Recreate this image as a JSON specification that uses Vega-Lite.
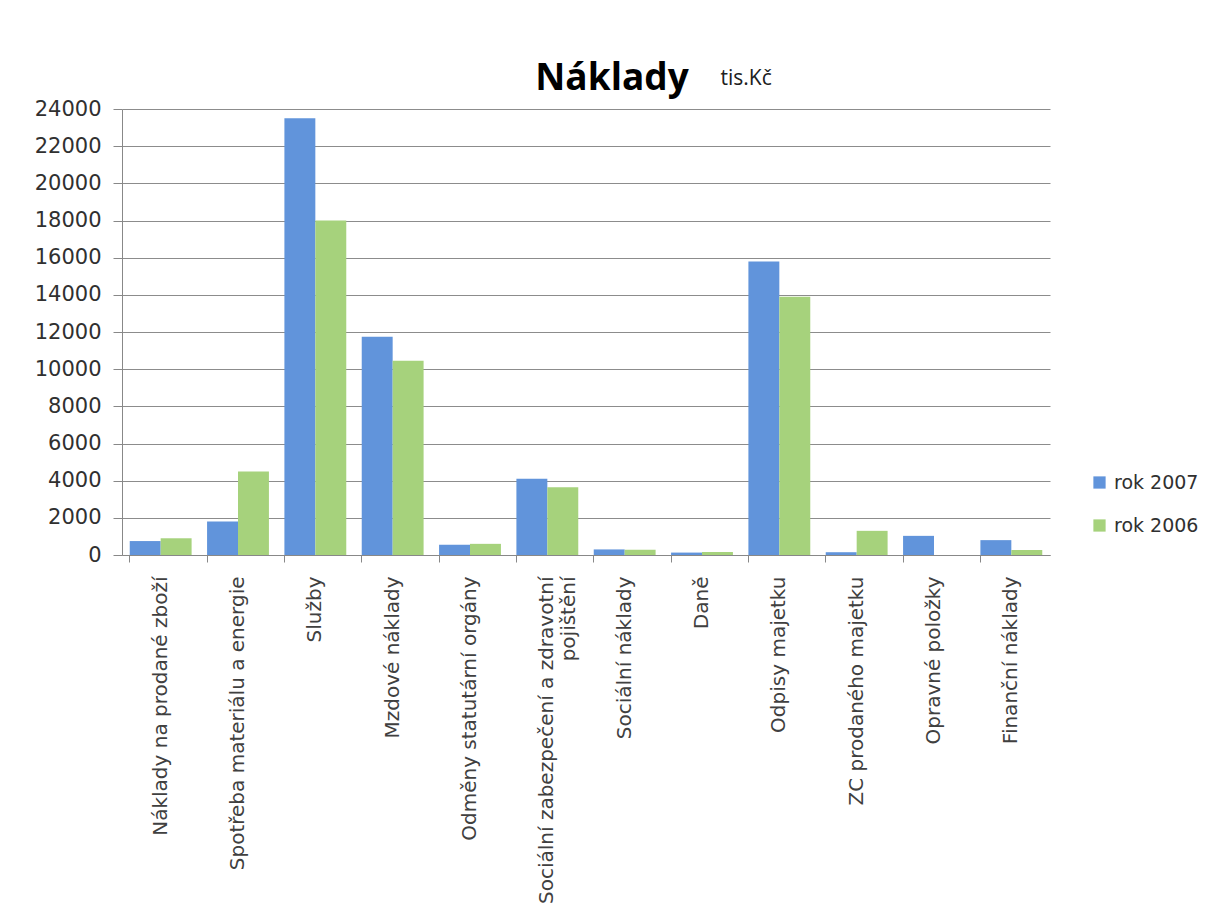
{
  "$schema": "https://vega.github.io/schema/vega-lite/v6.json",
  "width": 928,
  "height": 446,
  "autosize": {"type": "none"},
  "padding": {"left": 122, "top": 109, "right": 174, "bottom": 356},
  "background": "white",
  "title": {
    "text": "Náklady",
    "font": "Open Sans",
    "fontSize": 37,
    "fontWeight": "bold",
    "color": "#000000",
    "anchor": "middle",
    "frame": "group",
    "dx": 26,
    "dy": 45,
    "offset": 14
  },
  "data": {
    "values": [
      {"kategorie": "Náklady na prodané zboží", "rok": "rok 2007", "hodnota": 750},
      {"kategorie": "Náklady na prodané zboží", "rok": "rok 2006", "hodnota": 900},
      {"kategorie": "Spotřeba materiálu a energie", "rok": "rok 2007", "hodnota": 1800},
      {"kategorie": "Spotřeba materiálu a energie", "rok": "rok 2006", "hodnota": 4500},
      {"kategorie": "Služby", "rok": "rok 2007", "hodnota": 23500},
      {"kategorie": "Služby", "rok": "rok 2006", "hodnota": 18000},
      {"kategorie": "Mzdové náklady", "rok": "rok 2007", "hodnota": 11750},
      {"kategorie": "Mzdové náklady", "rok": "rok 2006", "hodnota": 10450},
      {"kategorie": "Odměny statutární orgány", "rok": "rok 2007", "hodnota": 550},
      {"kategorie": "Odměny statutární orgány", "rok": "rok 2006", "hodnota": 600},
      {"kategorie": "Sociální zabezpečení a zdravotní pojištění", "rok": "rok 2007", "hodnota": 4100},
      {"kategorie": "Sociální zabezpečení a zdravotní pojištění", "rok": "rok 2006", "hodnota": 3650},
      {"kategorie": "Sociální náklady", "rok": "rok 2007", "hodnota": 300},
      {"kategorie": "Sociální náklady", "rok": "rok 2006", "hodnota": 280},
      {"kategorie": "Daně", "rok": "rok 2007", "hodnota": 130},
      {"kategorie": "Daně", "rok": "rok 2006", "hodnota": 160},
      {"kategorie": "Odpisy majetku", "rok": "rok 2007", "hodnota": 15800},
      {"kategorie": "Odpisy majetku", "rok": "rok 2006", "hodnota": 13900},
      {"kategorie": "ZC prodaného majetku", "rok": "rok 2007", "hodnota": 150},
      {"kategorie": "ZC prodaného majetku", "rok": "rok 2006", "hodnota": 1300},
      {"kategorie": "Opravné položky", "rok": "rok 2007", "hodnota": 1030},
      {"kategorie": "Opravné položky", "rok": "rok 2006", "hodnota": 0},
      {"kategorie": "Finanční náklady", "rok": "rok 2007", "hodnota": 800},
      {"kategorie": "Finanční náklady", "rok": "rok 2006", "hodnota": 270}
    ]
  },
  "mark": {"type": "bar"},
  "encoding": {
    "x": {
      "field": "kategorie",
      "type": "nominal",
      "sort": null,
      "scale": {"paddingInner": 0.2, "paddingOuter": 0.1},
      "axis": {
        "title": null,
        "labelAngle": -90,
        "labelFont": "DejaVu Sans",
        "labelFontSize": 20,
        "labelColor": "#404040",
        "labelPadding": 14,
        "labelLimit": 400,
        "labelLineHeight": 22,
        "labelExpr": "datum.label == 'Sociální zabezpečení a zdravotní pojištění' ? ['Sociální zabezpečení a zdravotní', 'pojištění'] : datum.label",
        "bandPosition": 0,
        "ticks": true,
        "tickSize": 7,
        "tickColor": "#888888",
        "domainColor": "#888888",
        "grid": false
      }
    },
    "xOffset": {"field": "rok", "type": "nominal", "sort": ["rok 2007", "rok 2006"]},
    "y": {
      "field": "hodnota",
      "type": "quantitative",
      "scale": {"domain": [0, 24000], "nice": false},
      "axis": {
        "title": "tis.Kč",
        "titleAngle": 0,
        "titleX": 598,
        "titleY": -25,
        "titleAlign": "left",
        "titleBaseline": "alphabetic",
        "titleFont": "Open Sans",
        "titleFontSize": 21,
        "titleFontWeight": "normal",
        "titleColor": "#202020",
        "values": [0, 2000, 4000, 6000, 8000, 10000, 12000, 14000, 16000, 18000, 20000, 22000, 24000],
        "format": "d",
        "labelFont": "DejaVu Sans",
        "labelFontSize": 21,
        "labelColor": "#303030",
        "labelPadding": 12,
        "tickSize": 9,
        "tickColor": "#888888",
        "domainColor": "#888888",
        "gridColor": "#8c8c8c",
        "gridWidth": 1
      }
    },
    "color": {
      "field": "rok",
      "type": "nominal",
      "sort": ["rok 2007", "rok 2006"],
      "scale": {"domain": ["rok 2007", "rok 2006"], "range": ["#6194db", "#a6d27c"]},
      "legend": {
        "title": null,
        "orient": "none",
        "legendX": 968,
        "legendY": 364,
        "symbolType": "square",
        "symbolSize": 150,
        "symbolStrokeWidth": 0,
        "labelFont": "DejaVu Sans",
        "labelFontSize": 19,
        "labelColor": "#303030",
        "rowPadding": 23,
        "labelOffset": 5
      }
    }
  },
  "config": {
    "view": {"stroke": null}
  }
}
